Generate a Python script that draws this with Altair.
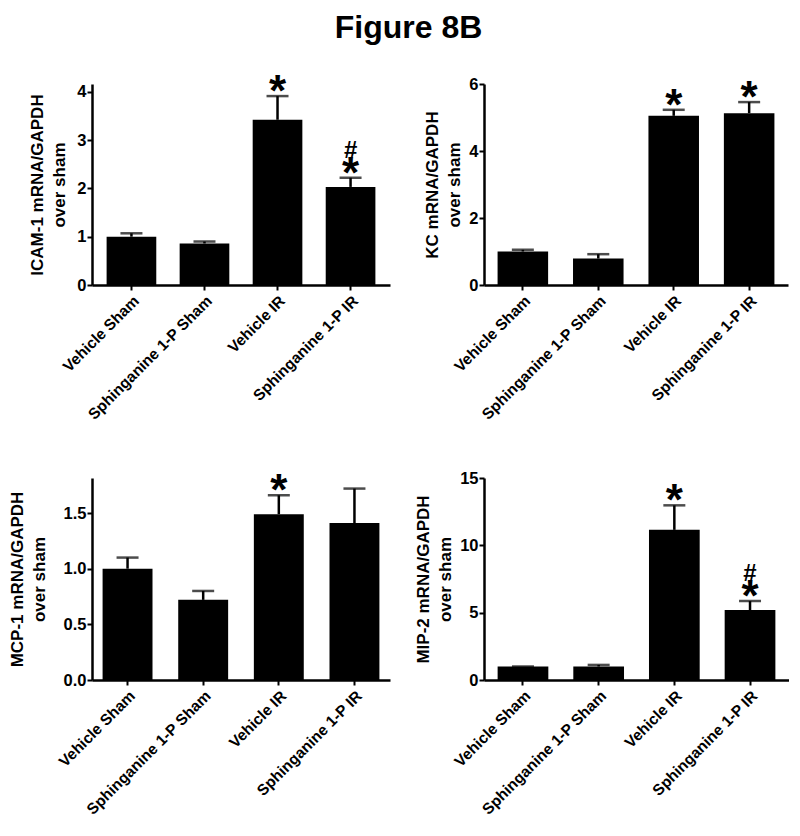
import altair as alt
import pandas as pd

categories = ["Vehicle Sham", "Sphinganine 1-P Sham", "Vehicle IR", "Sphinganine 1-P IR"]

icam_mean = [1.0, 0.86, 3.42, 2.03]
icam_err = [0.07, 0.04, 0.49, 0.19]
icam_star = ["", "", "*", "*"]
icam_hash = ["", "", "", "#"]

kc_mean = [1.0, 0.79, 5.05, 5.13]
kc_err = [0.05, 0.13, 0.18, 0.33]
kc_star = ["", "", "*", "*"]
kc_hash = ["", "", "", ""]

mcp_mean = [1.0, 0.72, 1.49, 1.41]
mcp_err = [0.10, 0.08, 0.17, 0.31]
mcp_star = ["", "", "*", ""]
mcp_hash = ["", "", "", ""]

mip_mean = [1.0, 1.0, 11.15, 5.2]
mip_err = [0.0, 0.12, 1.82, 0.66]
mip_star = ["", "", "*", "*"]
mip_hash = ["", "", "", "#"]

FONT = "Liberation Sans"


def panel(mean, err, star, hsh, title, domain_max, ticks, fmt, width, height,
          pin, pout, t_pad):
    df = pd.DataFrame({
        "cat": categories,
        "mean": mean,
        "top": [m + e for m, e in zip(mean, err)],
        "star": star,
        "hash": hsh,
    })
    x = alt.X("cat:N", sort=categories, title=None,
              scale=alt.Scale(paddingInner=pin, paddingOuter=pout),
              axis=alt.Axis(labelAngle=-45, labelAlign="right", labelBaseline="top",
                            labelFontSize=15.5, labelLimit=300, tickSize=5, labelPadding=3))
    yscale = alt.Scale(domain=[0, domain_max], nice=False, zero=True)
    yaxis = alt.Axis(values=ticks, format=fmt, grid=False, tickSize=5, labelPadding=1,
                     labelFontSize=16.5, titleFontSize=17, titleLineHeight=22,
                     titlePadding=t_pad)
    base = alt.Chart(df)
    xs = alt.X("cat:N", sort=categories)
    bars = base.mark_bar(color="black").encode(
        x=x, y=alt.Y("mean:Q", scale=yscale, axis=yaxis, title=title))
    stem = base.mark_rule(color="black", strokeWidth=2.5).encode(
        x=xs, y="mean:Q", y2="top:Q")
    cap = base.mark_tick(color="black", thickness=2.5, size=22).encode(
        x=xs, y="top:Q")
    stars = base.mark_text(font=FONT, fontWeight="bold", fontSize=44,
                           baseline="alphabetic", dy=10, color="black").encode(
        x=xs, y="top:Q", text="star:N")
    hashes = base.mark_text(font=FONT, fontWeight="bold", fontSize=24,
                            baseline="alphabetic", dy=-20, color="black").encode(
        x=xs, y="top:Q", text="hash:N")
    return alt.layer(bars, stem, cap, stars, hashes).properties(width=width, height=height)


tl = panel(icam_mean, icam_err, icam_star, icam_hash, ["ICAM-1 mRNA/GAPDH", "over sham"],
           4.16, [0, 1, 2, 3, 4], "d", 298, 201, 0.32, 0.2, 8)
tr = panel(kc_mean, kc_err, kc_star, kc_hash, ["KC mRNA/GAPDH", "over sham"],
           6, [0, 2, 4, 6], "d", 304, 201, 0.33, 0.18, 5)
bl = panel(mcp_mean, mcp_err, mcp_star, mcp_hash, ["MCP-1 mRNA/GAPDH", "over sham"],
           1.815, [0, 0.5, 1.0, 1.5], ".1f", 298, 202, 0.34, 0.14, 15)
br = panel(mip_mean, mip_err, mip_star, mip_hash, ["MIP-2 mRNA/GAPDH", "over sham"],
           15, [0, 5, 10, 15], "d", 305, 202, 0.33, 0.18, 5)

chart = alt.concat(
    tl, tr, bl, br, columns=2, spacing={"row": 26, "column": 24},
).properties(
    title=alt.TitleParams("Figure 8B", font=FONT, fontSize=32, fontWeight="bold",
                          anchor="middle", offset=12, dx=10, color="black"),
    padding={"top": 4, "bottom": 0, "left": 0, "right": 0},
    align="each",
).configure_view(strokeWidth=0).configure_axis(
    labelFont=FONT, labelFontWeight="bold", labelColor="black",
    titleFont=FONT, titleFontWeight="bold", titleColor="black",
    domainColor="black", domainWidth=2.5, tickColor="black", tickWidth=2,
)

chart.save("out.html", embed_options={"renderer": "svg", "actions": False})
